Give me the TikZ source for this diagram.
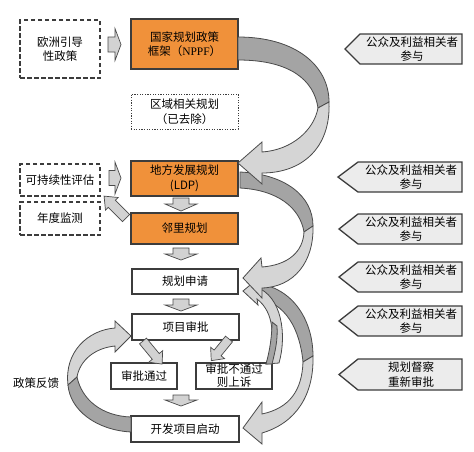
\documentclass[tikz,border=0pt]{standalone}
\usepackage{fontspec}
\setmainfont{Noto Sans CJK SC}
\newfontfamily\latinserif{Liberation Serif}
\definecolor{boxline}{HTML}{3C3C3C}
\definecolor{orangefill}{HTML}{F0913A}
\definecolor{pentfill}{HTML}{ECECEC}
\definecolor{bandA}{HTML}{A4A4A4}
\definecolor{bandB}{HTML}{D5D5D5}
\definecolor{bandline}{HTML}{4A4A4A}
\definecolor{smallfill}{HTML}{D2D2D2}
\newcommand\fs{\fontsize{11.5pt}{14.5pt}\selectfont}
\newcommand\barrow[7]{%
  \begin{scope}[shift={(#1,#2)},rotate=#3]
    \path[smallarr] (0,-#5) -- ({#4-#7},-#5) -- ({#4-#7},-#6) -- (#4,0) -- ({#4-#7},#6) -- ({#4-#7},#5) -- (0,#5) -- cycle;
  \end{scope}}
\newcommand\pent[6]{%
  \path[pentshape] (#5,#2) -- (462,#2) -- (462,#3) -- (#5,#3) -- (#4,{(#2+#3)/2}) -- cycle;
  \node[pentext] (#1) at ({(#5+462)/2+1},{(#2+#3)/2}) {#6};}
\begin{document}
\begin{tikzpicture}[x=1pt,y=-1pt,
  boxbase/.style={draw=boxline, line width=1.3pt, inner sep=0pt, align=center, font=\fs},
  orangebox/.style={boxbase, fill=orangefill},
  whitebox/.style={boxbase, fill=white},
  dashbox/.style={boxbase, dash pattern=on 4.5pt off 2.5pt},
  dotbox/.style={boxbase, line width=1pt, dash pattern=on 1.2pt off 1.4pt},
  pentshape/.style={draw=boxline, line width=1.3pt, fill=pentfill},
  pentext/.style={inner sep=0pt, align=center, font=\fs},
  smallarr/.style={draw=bandline, line width=0.7pt, fill=smallfill},
  darkband/.style={draw=bandline, line width=0.8pt, fill=bandA},
  lightband/.style={draw=bandline, line width=0.8pt, fill=bandB},
  plain/.style={inner sep=0pt, font=\fs}]
\useasboundingbox (0,0) rectangle (474,451);
\fill[white] (0,0) rectangle (474,451);

% boxes
\node[dashbox, minimum width=80pt, minimum height=58pt] (eu) at (60,49) {欧洲引导\\性政策};
\node[orangebox, minimum width=107pt, minimum height=50pt] (nppf) at (184.5,44) {国家规划政策\\框架（{\latinserif NPPF}）};
\node[dotbox, minimum width=107pt, minimum height=35pt] (reg) at (184.5,111.5) {区域相关规划\\（已去除）};
\node[orangebox, minimum width=107pt, minimum height=35pt] (ldp) at (184.5,178.5) {地方发展规划\\(LDP)};
\node[dashbox, minimum width=80pt, minimum height=32pt] (sus) at (60,180) {可持续性评估};
\node[dashbox, minimum width=80pt, minimum height=33pt] (mon) at (60,218.5) {年度监测};
\node[orangebox, minimum width=107pt, minimum height=31pt] (nbr) at (184.5,228.5) {邻里规划};
\node[whitebox, minimum width=106pt, minimum height=25pt] (app) at (185,281.5) {规划申请};
\node[whitebox, minimum width=107pt, minimum height=26pt] (proj) at (185.5,327) {项目审批};
\node[whitebox, minimum width=66pt, minimum height=26pt] (pass) at (144,376) {审批通过};
\node[whitebox, minimum width=76pt, minimum height=26pt, font=\fontsize{11.5pt}{13pt}\selectfont] (fail) at (234,376) {审批不通过\\则上诉};
\node[whitebox, minimum width=108pt, minimum height=26pt] (dev) at (185,429) {开发项目启动};
\node[plain] (fb) at (36,383) {政策反馈};

% right-hand pentagons
\pent{p1}{34}{64}{345}{360}{公众及利益相关者\\参与}
\pent{p2}{162}{192}{338}{358}{公众及利益相关者\\参与}
\pent{p3}{214}{244}{339}{358}{公众及利益相关者\\参与}
\pent{p4}{262}{292}{339}{358}{公众及利益相关者\\参与}
\pent{p5}{306}{336}{339}{358}{公众及利益相关者\\参与}
\pent{p6}{359}{390}{339}{358}{规划督察\\重新审批}

% small block arrows
\barrow{108}{44.5}{0}{13}{7.5}{16}{6}
\barrow{109}{178}{0}{12}{7.5}{16}{6}
\barrow{126}{218}{135}{31}{5}{9}{11}
\barrow{181}{198}{-90}{13}{8}{16}{7}
\barrow{181}{248}{-90}{12}{8}{16}{6}
\barrow{181}{299}{-90}{12}{8}{16}{6}
\barrow{181}{395}{-90}{11}{8}{16}{6}
\barrow{143}{341}{-50.4}{30}{4.5}{9}{10}
\barrow{229}{339}{-129.3}{28}{4.5}{9}{10}

% big ribbon arrows
\path[darkband] (240,172) .. controls (285,174) and (313,196) .. (313,226) -- (304,232) .. controls (300,208) and (278,190) .. (240,188) -- cycle;
\path[darkband] (238,37) .. controls (296,37) and (329,66) .. (329,102) -- (318,108) .. controls (314,80) and (290,60) .. (238,60) -- cycle;
\path[lightband] (329,102) .. controls (331,148) and (302,173) .. (262,173) -- (262,184) -- (238,163) -- (262,142) -- (262,152) .. controls (292,150) and (314,130) .. (318,108) -- cycle;

\path[darkband] (250,283) .. controls (292,284) and (313,320) .. (313,356) -- (303,362) .. controls (300,330) and (286,302) .. (256,298) -- cycle;
\path[lightband] (313,356) .. controls (314,395) and (296,423) .. (262,433) -- (262,444) -- (243,428) -- (262,402) -- (262,414) .. controls (290,408) and (302,390) .. (303,362) -- cycle;

\path[lightband] (266,364) .. controls (276,338) and (274,312) .. (257,299) -- (258,305) -- (243,291) -- (255,281) -- (256,287) .. controls (282,296) and (287,335) .. (279,363) -- cycle;
\path[darkband] (266,364) .. controls (270,350) and (272,335) .. (272,322) -- (277,326) .. controls (278,340) and (275,352) .. (272,364) -- cycle;

\path[lightband] (313,226) .. controls (314,262) and (294,287) .. (262,288) -- (262,298) -- (243,278) -- (261,258) -- (262,267) .. controls (288,265) and (303,252) .. (304,232) -- cycle;

\path[lightband] (68,385) .. controls (64,352) and (88,330) .. (115,328) -- (115,321) -- (131,336) -- (115,352) -- (115,346) .. controls (95,348) and (80,360) .. (77,377) -- cycle;
\path[darkband] (68,385) .. controls (70,410) and (96,430) .. (131,432) -- (131,417) .. controls (102,416) and (82,400) .. (77,377) -- cycle;
\end{tikzpicture}
\end{document}
